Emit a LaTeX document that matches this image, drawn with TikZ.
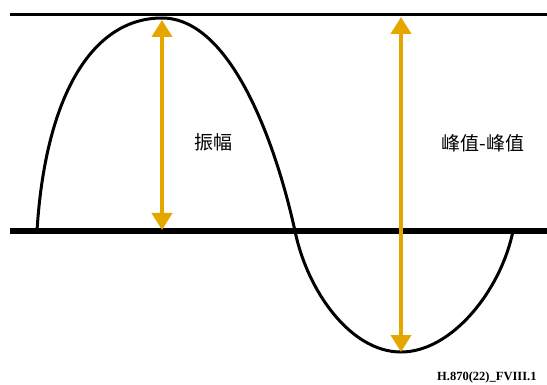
\documentclass[tikz,border=0pt]{standalone}
\usepackage{fontspec}
\newfontfamily\cjkfont{Noto Sans CJK SC}
\newfontfamily\figfont{Liberation Serif}
\usetikzlibrary{arrows.meta}
\definecolor{amber}{RGB}{230,166,0}

\begin{document}
\begin{tikzpicture}[x=1pt, y=-1pt, >={Triangle[width=20pt,length=17pt]},
  measure/.style={draw=amber, line width=4pt, <->},
  lbl/.style={font=\cjkfont\fontsize{19}{22}\selectfont, inner sep=0pt}]
  \useasboundingbox (0,0) rectangle (547,385);
  % crest level and zero level
  \draw[line width=3pt] (10,15) -- (547,15);
  \draw[line width=6pt] (10,231) -- (547,231);
  % positive half wave, crest at x=162
  \draw[line width=3pt] (37,231) .. controls (45,100) and (90,18) .. (162,18)
    .. controls (230,18) and (275,140) .. (295,231);
  % negative half wave, trough at x=401
  \draw[line width=3pt] (295,231) .. controls (307,290) and (350,352) .. (401,352)
    .. controls (452,352) and (501,290) .. (513,231);
  % arrow end points
  \coordinate (crest) at (162,20);
  \coordinate (zero) at (162,230);
  \coordinate (top) at (401,17);
  \coordinate (trough) at (401,352);
  \draw[measure] (zero) -- (crest);
  \draw[measure] (trough) -- (top);
  % labels
  \node[lbl] (amp) at (213,142) {振幅};
  \node[lbl] (pp) at (483,143) {峰值-峰值};
  \node[font=\figfont\bfseries\fontsize{12.5}{15}\selectfont, anchor=base west, inner sep=0pt]
    (figid) at (437,381) {H.870(22)\_FVIII.1};
\end{tikzpicture}
\end{document}
